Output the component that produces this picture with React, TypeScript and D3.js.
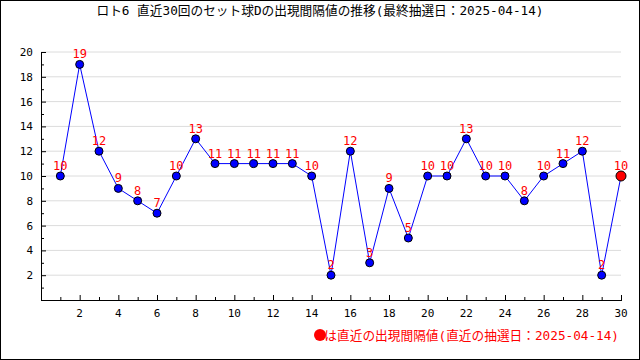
import React from "react";
import * as d3 from "d3";

const draws: number[] = Array.from({ length: 30 }, (_, i) => i + 1);
const values: number[] = [10, 19, 12, 9, 8, 7, 10, 13, 11, 11, 11, 11, 11, 10, 2, 12, 3, 9, 5, 10, 10, 13, 10, 10, 8, 10, 11, 12, 2, 10];
const yTickLabels: number[] = [2, 4, 6, 8, 10, 12, 14, 16, 18, 20];
const xTickLabels: number[] = [2, 4, 6, 8, 10, 12, 14, 16, 18, 20, 22, 24, 26, 28, 30];
const title = "ロト6 直近30回のセット球Dの出現間隔値の推移(最終抽選日：2025-04-14)";
const legendText = "は直近の出現間隔値(直近の抽選日：2025-04-14)";

const W = 640, H = 360;
const FONT = "'DejaVu Sans Mono', 'Noto Sans CJK JP', monospace";

export default function App() {
  const x = d3.scaleLinear().domain([0, 30]).range([41, 621]);
  const y = d3.scaleLinear().domain([0, 20]).range([300, 52]);
  const line = d3.line<number>().x((_, i) => x(draws[i])).y((d) => y(d));
  const minorY = d3.range(1, 21);
  const minorX = d3.range(1, 31);
  return (
    <svg width={W} height={H} style={{ position: "absolute", left: 0, top: 0 }} fontFamily={FONT}>
      <rect x={0.5} y={0.5} width={W - 1} height={H - 1} fill="#fff" stroke="#000" />
      <text x={320} y={15} textAnchor="middle" fontSize={12.7} fill="#000">{title}</text>
      {yTickLabels.map((v) => (
        <line key={"g" + v} x1={x(0)} x2={x(30)} y1={y(v)} y2={y(v)} stroke="#dcdcdc" />
      ))}
      {minorY.map((v) => (
        <line key={"yt" + v} x1={x(0)} x2={x(0) + (v % 2 === 0 ? 5 : 3)} y1={y(v) + 0.5} y2={y(v) + 0.5} stroke="#000" />
      ))}
      {minorX.map((v) => (
        <line key={"xt" + v} x1={x(v) + 0.5} x2={x(v) + 0.5} y1={y(0)} y2={y(0) - (v % 2 === 0 ? 5 : 3)} stroke="#000" />
      ))}
      <line x1={x(0) + 0.5} x2={x(0) + 0.5} y1={y(20)} y2={y(0) + 0.5} stroke="#000" />
      <line x1={x(0)} x2={x(30) + 1} y1={y(0) + 0.5} y2={y(0) + 0.5} stroke="#000" />
      {yTickLabels.map((v) => (
        <text key={"yl" + v} x={33} y={y(v) + 4} textAnchor="end" fontSize={11} fill="#000">{v}</text>
      ))}
      {xTickLabels.map((v) => (
        <text key={"xl" + v} x={x(v)} y={317} textAnchor="middle" fontSize={11} fill="#000">{v}</text>
      ))}
      <path d={line(values) || ""} fill="none" stroke="#0000ff" strokeWidth={1} />
      {values.map((v, i) => {
        const last = i === values.length - 1;
        return (
          <circle key={"c" + i} cx={x(draws[i])} cy={y(v)} r={last ? 5 : 4} fill={last ? "#ff0000" : "#0000ff"} stroke="#000" strokeWidth={1} />
        );
      })}
      {values.map((v, i) => (
        <text key={"t" + i} x={x(draws[i])} y={y(v) - 6} textAnchor="middle" fontSize={12} fill="#ff0000">{v}</text>
      ))}
      <circle cx={320} cy={335} r={6} fill="#ff0000" />
      <text x={619} y={340} textAnchor="end" fontSize={12.7} fill="#ff0000">{legendText}</text>
    </svg>
  );
}
